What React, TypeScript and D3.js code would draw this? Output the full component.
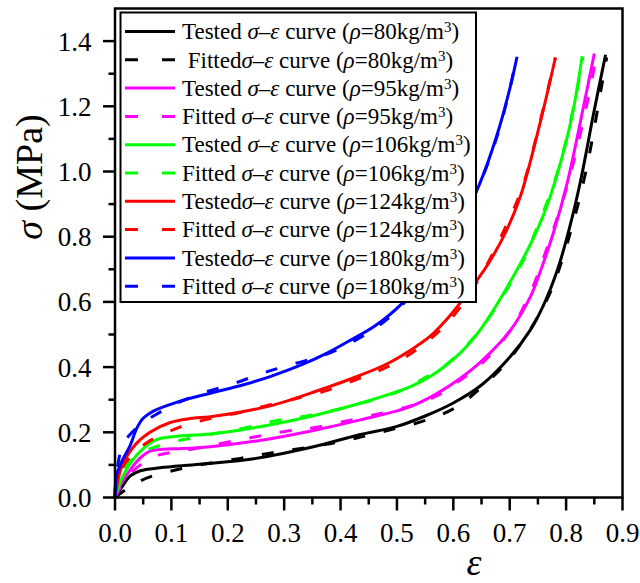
import React from 'react';
import * as d3 from 'd3';

// [strain, stress (MPa)]
const tested80 = [[0, 0], [0.009, 0.023], [0.027, 0.066], [0.045, 0.082], [0.08, 0.091], [0.15, 0.102], [0.25, 0.12], [0.35, 0.155], [0.435, 0.193], [0.5, 0.218], [0.55, 0.25], [0.6, 0.29], [0.65, 0.345], [0.7, 0.43], [0.737, 0.515], [0.76, 0.59], [0.785, 0.7], [0.805, 0.82], [0.8255, 0.97], [0.849, 1.18], [0.87, 1.358]];
const fitted80 = [[0, 0], [0.02, 0.025], [0.044, 0.05], [0.07, 0.068], [0.109, 0.085], [0.15, 0.1], [0.222, 0.12], [0.275, 0.136], [0.39, 0.168], [0.47, 0.2], [0.553, 0.238], [0.607, 0.279], [0.654, 0.345], [0.7, 0.425], [0.766, 0.607], [0.802, 0.78], [0.835, 1.0], [0.864, 1.272], [0.872, 1.35]];
const tested95 = [[0, 0], [0.01, 0.04], [0.027, 0.085], [0.044, 0.12], [0.062, 0.142], [0.085, 0.148], [0.12, 0.15], [0.169, 0.156], [0.257, 0.175], [0.35, 0.205], [0.435, 0.238], [0.524, 0.279], [0.57, 0.318], [0.612, 0.365], [0.648, 0.415], [0.7, 0.51], [0.737, 0.617], [0.7515, 0.68], [0.778, 0.815], [0.802, 0.965], [0.831, 1.2], [0.85, 1.362]];
const fitted95 = [[0, 0], [0.02, 0.06], [0.045, 0.1], [0.071, 0.127], [0.136, 0.148], [0.245, 0.185], [0.299, 0.202], [0.355, 0.215], [0.45, 0.25], [0.518, 0.278], [0.571, 0.312], [0.604, 0.35], [0.648, 0.407], [0.7, 0.51], [0.737, 0.63], [0.763, 0.75], [0.805, 0.975], [0.84, 1.231], [0.853, 1.35]];
const tested106 = [[0, 0], [0.01, 0.05], [0.027, 0.105], [0.05, 0.15], [0.075, 0.178], [0.105, 0.187], [0.169, 0.195], [0.257, 0.217], [0.35, 0.25], [0.435, 0.289], [0.524, 0.34], [0.559, 0.371], [0.612, 0.443], [0.648, 0.515], [0.707, 0.68], [0.749, 0.822], [0.772, 0.924], [0.808, 1.15], [0.8285, 1.354]];
const fitted106 = [[0, 0], [0.01, 0.06], [0.021, 0.1], [0.045, 0.135], [0.0666, 0.152], [0.12, 0.177], [0.228, 0.2125], [0.284, 0.235], [0.34, 0.25], [0.396, 0.271], [0.503, 0.325], [0.547, 0.365], [0.589, 0.41], [0.65, 0.52], [0.725, 0.73], [0.74, 0.791], [0.787, 1.011], [0.8255, 1.303], [0.83, 1.35]];
const tested124 = [[0, 0], [0.005, 0.05], [0.012, 0.095], [0.0355, 0.161], [0.062, 0.2], [0.098, 0.23], [0.133, 0.242], [0.169, 0.248], [0.228, 0.264], [0.275, 0.281], [0.35, 0.322], [0.435, 0.375], [0.48, 0.408], [0.524, 0.452], [0.559, 0.495], [0.59, 0.55], [0.618, 0.61], [0.663, 0.72], [0.695, 0.822], [0.719, 0.924], [0.754, 1.15], [0.781, 1.349]];
const fitted124 = [[0, 0], [0.002, 0.05], [0.013, 0.092], [0.03, 0.13], [0.059, 0.171], [0.109, 0.212], [0.163, 0.24], [0.225, 0.262], [0.275, 0.285], [0.325, 0.305], [0.379, 0.33], [0.44, 0.37], [0.488, 0.405], [0.536, 0.455], [0.589, 0.535], [0.642, 0.66], [0.704, 0.873], [0.725, 0.965], [0.772, 1.283], [0.781, 1.35]];
const tested180 = [[0, 0], [0.003, 0.07], [0.012, 0.11], [0.027, 0.16], [0.0385, 0.212], [0.05, 0.243], [0.068, 0.265], [0.109, 0.292], [0.169, 0.32], [0.228, 0.346], [0.275, 0.371], [0.328, 0.405], [0.376, 0.443], [0.417, 0.482], [0.46, 0.525], [0.506, 0.59], [0.55, 0.68], [0.6, 0.8], [0.645, 0.955], [0.678, 1.115], [0.701, 1.26], [0.713, 1.352]];
const fitted180 = [[0, 0], [0.002, 0.06], [0.005, 0.1], [0.012, 0.152], [0.025, 0.19], [0.052, 0.232], [0.08, 0.262], [0.103, 0.284], [0.156, 0.321], [0.21, 0.349], [0.263, 0.382], [0.317, 0.41], [0.376, 0.44], [0.458, 0.515], [0.506, 0.585], [0.55, 0.675], [0.6, 0.8], [0.645, 0.955], [0.678, 1.11], [0.701, 1.26], [0.712, 1.35]];

const densities = [80, 95, 106, 124, 180];
const testedSeries = [tested80, tested95, tested106, tested124, tested180];
const fittedSeries = [fitted80, fitted95, fitted106, fitted124, fitted180];
const testedPrefix = ['Tested ', 'Tested ', 'Tested ', 'Tested', 'Tested'];
const fittedPrefix = [' Fitted', 'Fitted ', 'Fitted ', 'Fitted ', 'Fitted '];
const colors = ['#000000', '#ff00ff', '#00ff00', '#ff0000', '#0000ff'];

const xTicks = [0, 0.1, 0.2, 0.3, 0.4, 0.5, 0.6, 0.7, 0.8, 0.9];
const yTicks = [0, 0.2, 0.4, 0.6, 0.8, 1.0, 1.2, 1.4];

const W = 640, H = 583;
const left = 115, right = 622.5, top = 8.5, bottom = 497.5;
const font = '"Liberation Serif", "Times New Roman", serif';
const dash = '12 19';

export default function App() {
  const x = d3.scaleLinear().domain([0, 0.9]).range([left, right]);
  const y = d3.scaleLinear().domain([0, 1.5]).range([bottom, top]);
  const line = d3.line<number[]>()
    .x(d => x(d[0]))
    .y(d => y(d[1]))
    .curve(d3.curveCatmullRom.alpha(0.5));

  const xMinor = xTicks.slice(0, -1).map(t => t + 0.05);
  const yMinor = [0.1, 0.3, 0.5, 0.7, 0.9, 1.1, 1.3];

  const rows: { color: string; dashed: boolean; prefix: string; d: number }[] = [];
  densities.forEach((d, i) => {
    rows.push({ color: colors[i], dashed: false, prefix: testedPrefix[i], d });
    rows.push({ color: colors[i], dashed: true, prefix: fittedPrefix[i], d });
  });

  return (
    <svg width={W} height={H} style={{ position: 'absolute', left: 0, top: 0, background: '#fff' }} fontFamily={font}>
      <rect x={0} y={0} width={W} height={H} fill="#fff" />

      {/* curves */}
      {densities.map((d, i) => (
        <g key={d}>
          <path d={line(testedSeries[i]) || ''} fill="none" stroke={colors[i]} strokeWidth={3} />
          <path d={line(fittedSeries[i]) || ''} fill="none" stroke={colors[i]} strokeWidth={3} strokeDasharray={dash} />
        </g>
      ))}

      {/* frame */}
      <rect x={left} y={top} width={right - left} height={bottom - top} fill="none" stroke="#000" strokeWidth={2.5} />

      {/* y axis */}
      {yTicks.map(t => (
        <g key={'y' + t}>
          <line x1={left - 12} x2={left} y1={y(t)} y2={y(t)} stroke="#000" strokeWidth={2.5} />
          <text x={91.5} y={y(t) + 9.5} textAnchor="end" fontSize={27}>{t.toFixed(1)}</text>
        </g>
      ))}
      {yMinor.map(t => (
        <line key={'ym' + t} x1={left - 6.5} x2={left} y1={y(t)} y2={y(t)} stroke="#000" strokeWidth={2.5} />
      ))}

      {/* x axis */}
      {xTicks.map(t => (
        <g key={'x' + t}>
          <line x1={x(t)} x2={x(t)} y1={bottom} y2={bottom + 13} stroke="#000" strokeWidth={2.5} />
          <text x={x(t)} y={541.5} textAnchor="middle" fontSize={27}>{t.toFixed(1)}</text>
        </g>
      ))}
      {xMinor.map(t => (
        <line key={'xm' + t} x1={x(t)} x2={x(t)} y1={bottom} y2={bottom + 7} stroke="#000" strokeWidth={2.5} />
      ))}

      {/* axis titles */}
      <text transform="translate(42,177) rotate(-90)" textAnchor="middle" fontSize={38}>
        <tspan fontStyle="italic">σ</tspan> (MPa)
      </text>
      <text x={474} y={575} textAnchor="middle" fontSize={38} fontStyle="italic">ε</text>

      {/* legend */}
      <rect x={120.5} y={12.5} width={355.5} height={289.5} fill="#fff" stroke="#000" strokeWidth={2} />
      {rows.map((r, i) => {
        const cy = 31.5 + i * 28.3;
        return (
          <g key={'l' + i}>
            <line x1={125} x2={175} y1={cy} y2={cy} stroke={r.color} strokeWidth={3}
              strokeDasharray={r.dashed ? '13 24' : undefined} />
            <text x={182} y={cy + 7.7} fontSize={23} xmlSpace="preserve">
              <tspan>{r.prefix}</tspan>
              <tspan fontStyle="italic">σ</tspan>
              <tspan>–</tspan>
              <tspan fontStyle="italic">ε</tspan>
              <tspan> curve (</tspan>
              <tspan fontStyle="italic">ρ</tspan>
              <tspan>={r.d}kg/m</tspan>
              <tspan dy={-7} fontSize={15}>3</tspan>
              <tspan dy={7}>)</tspan>
            </text>
          </g>
        );
      })}
    </svg>
  );
}
